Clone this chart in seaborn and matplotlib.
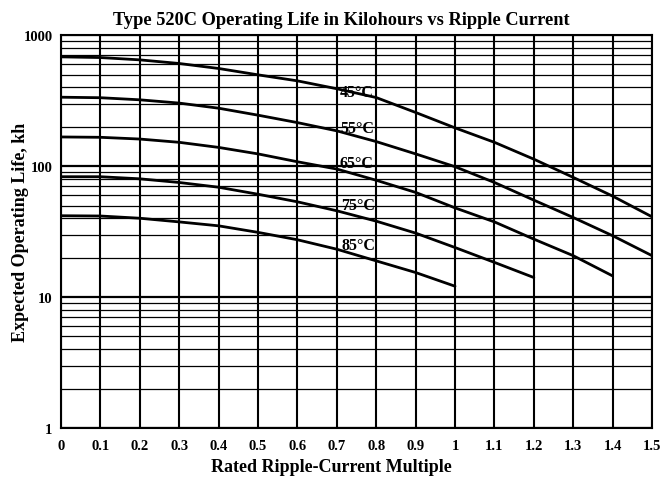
import numpy as np
import pandas as pd
import matplotlib
matplotlib.use("Agg")
import matplotlib.pyplot as plt
import seaborn as sns
from matplotlib.ticker import FixedLocator, NullFormatter

# ripple-current multiple (x) and life in kilohours for each temperature
x_45 = [0.0, 0.1, 0.2, 0.3, 0.4, 0.5, 0.6, 0.7, 0.8, 0.9, 1.0, 1.1, 1.2, 1.3, 1.4, 1.5]
life_45 = [683, 675, 648, 608, 557, 498, 448, 390, 334, 257, 196, 152, 113, 82, 59, 41]

x_55 = [0.0, 0.1, 0.2, 0.3, 0.4, 0.5, 0.6, 0.7, 0.8, 0.9, 1.0, 1.1, 1.2, 1.3, 1.4, 1.5]
life_55 = [336, 333, 321, 303, 277, 245, 215, 186, 154, 124, 99, 75, 55, 40.5, 29.4, 20.7]

x_65 = [0.0, 0.1, 0.2, 0.3, 0.4, 0.5, 0.6, 0.7, 0.8, 0.9, 1.0, 1.1, 1.2, 1.3, 1.4]
life_65 = [167, 166, 161, 152, 139, 124, 108, 95, 78, 63, 48, 37.5, 27.7, 20.7, 14.5]

x_75 = [0.0, 0.1, 0.2, 0.3, 0.4, 0.5, 0.6, 0.7, 0.8, 0.9, 1.0, 1.1, 1.2]
life_75 = [83, 83, 80, 75, 69, 61, 53.4, 45.6, 38, 30.8, 23.9, 18.4, 14.1]

x_85 = [0.0, 0.1, 0.2, 0.3, 0.4, 0.5, 0.6, 0.7, 0.8, 0.9, 1.0]
life_85 = [41.8, 41.6, 40, 37.5, 35, 31.2, 27.4, 23.2, 18.9, 15.4, 12.1]

temps = ["45°C", "55°C", "65°C", "75°C", "85°C"]
label_x = [0.751, 0.751, 0.751, 0.755, 0.755]
label_y = [369, 197, 105, 50.7, 24.9]

x_ticks = [0, 0.1, 0.2, 0.3, 0.4, 0.5, 0.6, 0.7, 0.8, 0.9, 1, 1.1, 1.2, 1.3, 1.4, 1.5]
x_tick_labels = ["0", "0.1", "0.2", "0.3", "0.4", "0.5", "0.6", "0.7", "0.8", "0.9",
                 "1", "1.1", "1.2", "1.3", "1.4", "1.5"]
y_ticks = [1, 10, 100, 1000]
y_tick_labels = ["1", "10", "100", "1000"]

frames = []
for t, xs, ys in zip(temps, [x_45, x_55, x_65, x_75, x_85],
                     [life_45, life_55, life_65, life_75, life_85]):
    frames.append(pd.DataFrame({"x": xs, "life": ys, "temp": t}))
df = pd.concat(frames, ignore_index=True)

sns.set_style("white")
plt.rcParams["font.family"] = ["Liberation Serif", "DejaVu Serif"]
plt.rcParams["font.weight"] = "bold"
plt.rcParams["text.color"] = "black"
plt.rcParams["axes.labelcolor"] = "black"
plt.rcParams["xtick.color"] = "black"
plt.rcParams["ytick.color"] = "black"

fig = plt.figure(figsize=(6.62, 4.89), dpi=100)
ax = fig.add_axes([0.092, 0.1227, 0.893, 0.8033])

sns.lineplot(data=df, x="x", y="life", hue="temp", palette=["black"] * 5,
             linewidth=2.0, legend=False, ax=ax, zorder=3)

ax.set_yscale("log")
ax.set_xlim(0, 1.5)
ax.set_ylim(1, 1000)

# grid: every 0.1 vertically, every 1..9 per decade horizontally
for xv in x_ticks:
    ax.axvline(xv, color="black", lw=1.5, zorder=1)
for dec in [1, 10, 100]:
    for m in range(1, 10):
        ax.axhline(dec * m, color="black", lw=1.6 if m == 1 else 0.9, zorder=1)
ax.axhline(1000, color="black", lw=1.6, zorder=1)

ax.xaxis.set_major_locator(FixedLocator(x_ticks))
ax.set_xticklabels(x_tick_labels)
ax.yaxis.set_major_locator(FixedLocator(y_ticks))
ax.set_yticklabels(y_tick_labels)
ax.yaxis.set_minor_formatter(NullFormatter())
ax.tick_params(axis="x", which="both", length=0, labelsize=10.5, pad=8)
ax.tick_params(axis="y", which="both", length=0, labelsize=10.5, pad=6)
for lab in ax.get_xticklabels() + ax.get_yticklabels():
    lab.set_fontweight("bold")

for t, lx, ly in zip(temps, label_x, label_y):
    ax.text(lx, ly, t, fontsize=11.5, fontweight="bold", ha="center", va="center",
            color="black", zorder=4)

for s in ax.spines.values():
    s.set_color("black")
    s.set_linewidth(1.5)

ax.set_xlabel("Rated Ripple-Current Multiple", fontsize=13, fontweight="bold")
ax.xaxis.set_label_coords(0.457, -0.097)
ax.xaxis.label.set_verticalalignment("center")
ax.set_ylabel("Expected Operating Life, kh", fontsize=13, fontweight="bold")
ax.yaxis.set_label_coords(-0.069, 0.5)
ax.yaxis.label.set_verticalalignment("center")
ax.set_title("Type 520C Operating Life in Kilohours vs Ripple Current",
             fontsize=13.2, fontweight="bold", x=0.475, pad=8, color="black")

fig.savefig("out.png", dpi=100)
